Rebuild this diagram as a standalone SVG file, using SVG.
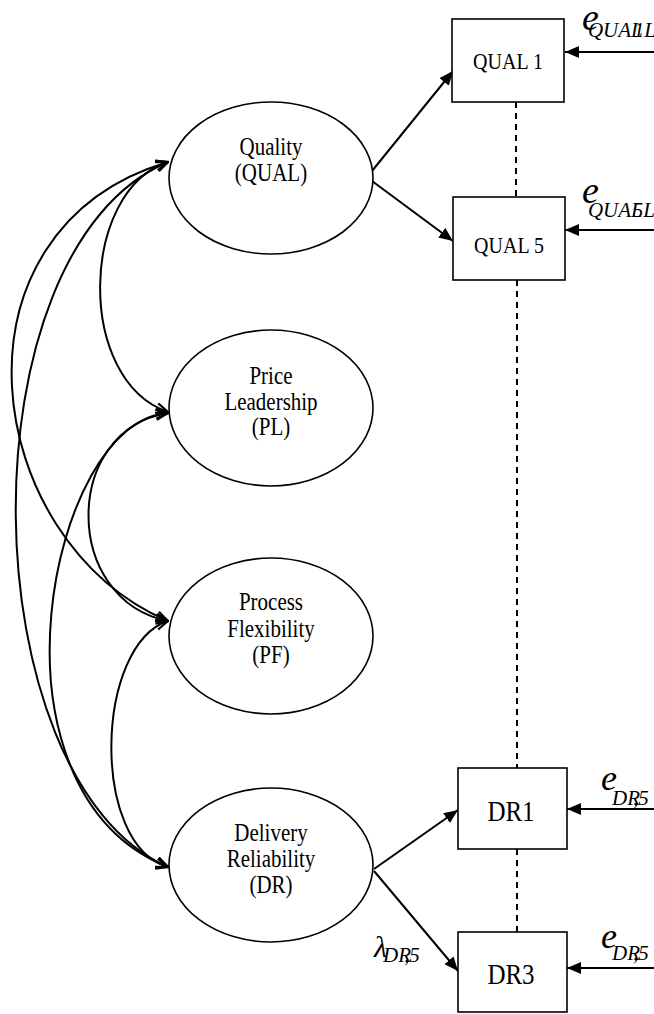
<svg xmlns="http://www.w3.org/2000/svg" width="654" height="1014" viewBox="0 0 654 1014">
<style>
.lat{fill:#fff;stroke:#000;stroke-width:1.6}
.box{fill:#fff;stroke:#000;stroke-width:1.6}
.t{font-family:"Liberation Serif","Times New Roman",serif;fill:#000;text-anchor:middle;transform-box:fill-box;transform-origin:50% 50%;transform:scaleY(1.18)}
.lt{font-size:21px}
.bq{font-size:20px}
.bd{font-size:25px}
.it{font-family:"Liberation Serif","Times New Roman",serif;font-style:italic;fill:#000}
.sub{font-size:21px}
.cov{fill:none;stroke:#000;stroke-width:2;marker-start:url(#oa);marker-end:url(#oa)}
.ld{fill:none;stroke:#000;stroke-width:2;marker-end:url(#fa)}
.dash{fill:none;stroke:#000;stroke-width:2;stroke-dasharray:6 5}
</style>
<defs>
<marker id="fa" viewBox="0 0 14 12" refX="14" refY="6" markerWidth="14" markerHeight="12" markerUnits="userSpaceOnUse" orient="auto"><path d="M0,0 L14,6 L0,12 z" fill="#000"/></marker>
<marker id="oa" viewBox="0 0 14 12" refX="13" refY="6" markerWidth="14" markerHeight="12" markerUnits="userSpaceOnUse" orient="auto-start-reverse"><path d="M1,1 L13,6 L1,11" fill="none" stroke="#000" stroke-width="2.2"/></marker>
</defs>

<g id="connectors">
<path class="cov" d="M168,162 C80,190 75,380 168,412"/>
<path class="cov" d="M168,413 C62,430 62,600 168,621"/>
<path class="cov" d="M168,621 C95,645 90,845 168,867"/>
<path class="cov" d="M168,162 C-60,230 -20,540 168,621"/>
<path class="cov" d="M168,162 C-40,250 -30,780 168,867"/>
<path class="cov" d="M168,413 C50,420 -25,790 168,867"/>
<path class="ld" d="M372,171 L453,71"/>
<path class="ld" d="M372,181 L453,241"/>
<path class="ld" d="M374,869 L458,810"/>
<path class="ld" d="M374,871 L458,971"/>
<path class="ld" d="M654,52 L565,52"/>
<path class="ld" d="M654,230 L565,230"/>
<path class="ld" d="M654,809 L567,809"/>
<path class="ld" d="M654,968 L567,968"/>
<path class="dash" d="M516,102 V197"/>
<path class="dash" d="M517,280 V768"/>
<path class="dash" d="M517,849 V932"/>
</g>

<g id="QUAL">
<ellipse class="lat" cx="271" cy="178" rx="102" ry="76"/>
<text class="t lt" x="271" y="154">Quality</text>
<text class="t lt" x="271" y="180">(QUAL)</text>
</g>
<g id="PL">
<ellipse class="lat" cx="271" cy="408" rx="102" ry="78"/>
<text class="t lt" x="271" y="383">Price</text>
<text class="t lt" x="271" y="409">Leadership</text>
<text class="t lt" x="271" y="434">(PL)</text>
</g>
<g id="PF">
<ellipse class="lat" cx="271" cy="636" rx="102" ry="78"/>
<text class="t lt" x="271" y="609">Process</text>
<text class="t lt" x="271" y="636">Flexibility</text>
<text class="t lt" x="271" y="662">(PF)</text>
</g>
<g id="DR">
<ellipse class="lat" cx="271" cy="865" rx="102" ry="77"/>
<text class="t lt" x="271" y="840">Delivery</text>
<text class="t lt" x="271" y="866">Reliability</text>
<text class="t lt" x="271" y="892">(DR)</text>
</g>

<g id="QUAL1">
<rect class="box" x="452" y="19" width="112" height="83"/>
<text class="t bq" x="508" y="68">QUAL 1</text>
</g>
<g id="QUAL5">
<rect class="box" x="453" y="197" width="112" height="83"/>
<text class="t bq" x="509" y="252">QUAL 5</text>
</g>
<g id="DR1">
<rect class="box" x="458" y="768" width="109" height="81"/>
<text class="t bd" x="511" y="820">DR1</text>
</g>
<g id="DR3">
<rect class="box" x="458" y="932" width="109" height="80"/>
<text class="t bd" x="511" y="983">DR3</text>
</g>

<g id="e_QUAL1">
<text class="it" x="582" y="30" font-size="38">e<tspan class="sub" dx="-11" dy="7">QUA</tspan><tspan class="sub">L</tspan><tspan class="sub" dx="-9">1</tspan><tspan class="sub">L</tspan></text>
</g>
<g id="e_QUAL5">
<text class="it" x="582" y="203" font-size="38">e<tspan class="sub" dx="-11" dy="14">QUA</tspan><tspan class="sub">L</tspan><tspan class="sub" dx="-10">5</tspan><tspan class="sub">L</tspan></text>
</g>
<g id="e_DR1">
<text class="it" x="601" y="790" font-size="36">e<tspan class="sub" dx="-5" dy="15">DR</tspan><tspan class="sub" dx="-7">,</tspan><tspan class="sub">5</tspan></text>
</g>
<g id="e_DR3">
<text class="it" x="601" y="948" font-size="36">e<tspan class="sub" dx="-5" dy="12">DR</tspan><tspan class="sub" dx="-7">,</tspan><tspan class="sub">5</tspan></text>
</g>
<g id="lambda_DR">
<text class="it" x="374" y="957" font-size="30">λ<tspan class="sub" dx="-4" dy="5">DR</tspan><tspan class="sub" dx="-7">,</tspan><tspan class="sub">5</tspan></text>
</g>
</svg>
